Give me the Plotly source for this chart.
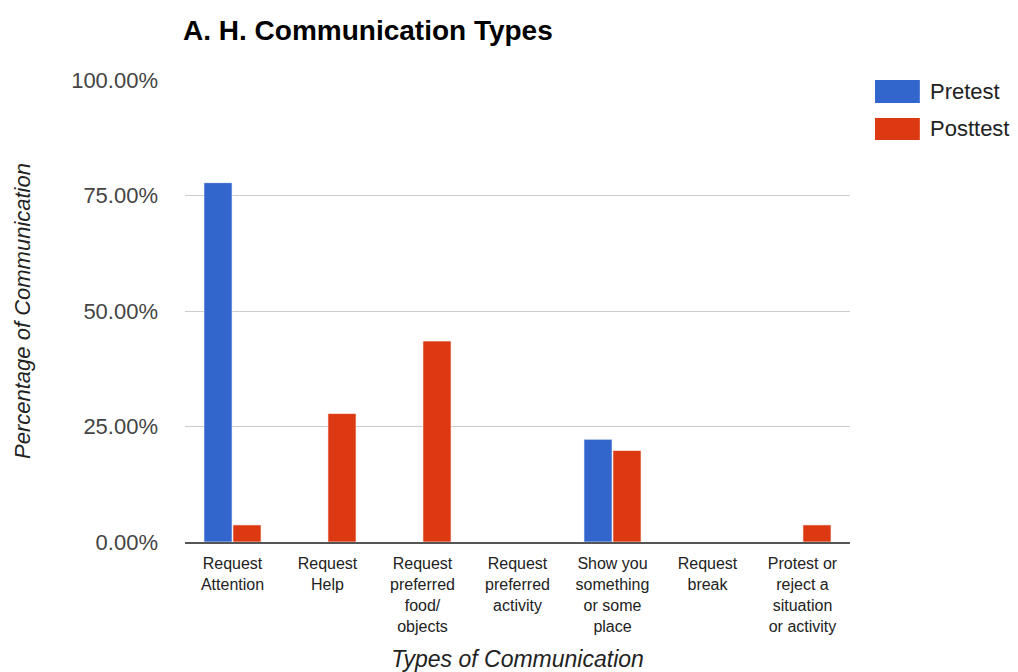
import plotly.graph_objects as go

categories = ["Request Attention", "Request Help", "Request preferred food/ objects",
              "Request preferred activity", "Show you something or some place",
              "Request break", "Protest or reject a situation or activity"]
tick_labels = ["Request<br>Attention", "Request<br>Help", "Request<br>preferred<br>food/<br>objects",
               "Request<br>preferred<br>activity", "Show you<br>something<br>or some<br>place",
               "Request<br>break", "Protest or<br>reject a<br>situation<br>or activity"]
series_names = ["Pretest", "Posttest"]
pretest = [0.7778, 0.0, 0.0, 0.0, 0.2222, 0.0, 0.0]
posttest = [0.037, 0.278, 0.435, 0.0, 0.198, 0.0, 0.037]
colors = ["#3366cc", "#dc3912"]
y_ticks = [0, 0.25, 0.5, 0.75, 1.0]

fig = go.Figure()
for name, vals, col in zip(series_names, [pretest, posttest], colors):
    fig.add_trace(go.Bar(x=categories, y=vals, name=name, marker_color=col,
                         marker_line_color="rgba(255,255,255,0.6)", marker_line_width=1,
                         showlegend=False))

# custom legend (large swatches like the original)
leg_x0, leg_x1 = 1.0376, 1.105
leg_rows = [(0.950, 1.0), (0.870, 0.918)]
for (y0, y1), name, col in zip(leg_rows, series_names, colors):
    fig.add_shape(type="rect", xref="paper", yref="paper", x0=leg_x0, x1=leg_x1,
                  y0=y0, y1=y1, fillcolor=col, line_width=0)
    fig.add_annotation(xref="paper", yref="paper", x=leg_x1 + 0.012, y=(y0 + y1) / 2,
                       text=name, showarrow=False, xanchor="left", yanchor="middle",
                       font=dict(family="Liberation Sans, Arial", size=22, color="#222"))

fig.update_layout(
    width=1018, height=672,
    margin=dict(l=185, r=168, t=80, b=130),
    paper_bgcolor="white", plot_bgcolor="white",
    barmode="group", bargap=0.39, bargroupgap=0.03,
    title=dict(text="<b>A. H. Communication Types</b>", x=183/1018, xanchor="left",
               y=1 - 30/672, yanchor="middle",
               font=dict(family="Liberation Sans, Arial", size=28, color="#000")),
    font=dict(family="Liberation Sans, Arial", color="#222"),
)
fig.update_yaxes(range=[0, 1], tickvals=y_ticks, tickformat=".2%", automargin=False,
                 gridcolor="#cccccc", gridwidth=1, showline=False, zeroline=False,
                 tickfont=dict(size=22, color="#444"), ticks="", ticklen=0,
                 ticklabelstandoff=26,
                 title=dict(text="<i>Percentage of Communication</i>", standoff=34,
                            font=dict(size=22, color="#222")))
fig.update_xaxes(tickvals=categories, ticktext=tick_labels, showline=True, automargin=False,
                 linecolor="#555", linewidth=2, showgrid=False,
                 ticklabelstandoff=6,
                 tickfont=dict(family="Liberation Sans Narrow, Liberation Sans, Arial", size=16, color="#222"),
                 title=dict(text="<i>Types of Communication</i>", standoff=18,
                            font=dict(size=23, color="#222")))

fig.write_html("out.html")
